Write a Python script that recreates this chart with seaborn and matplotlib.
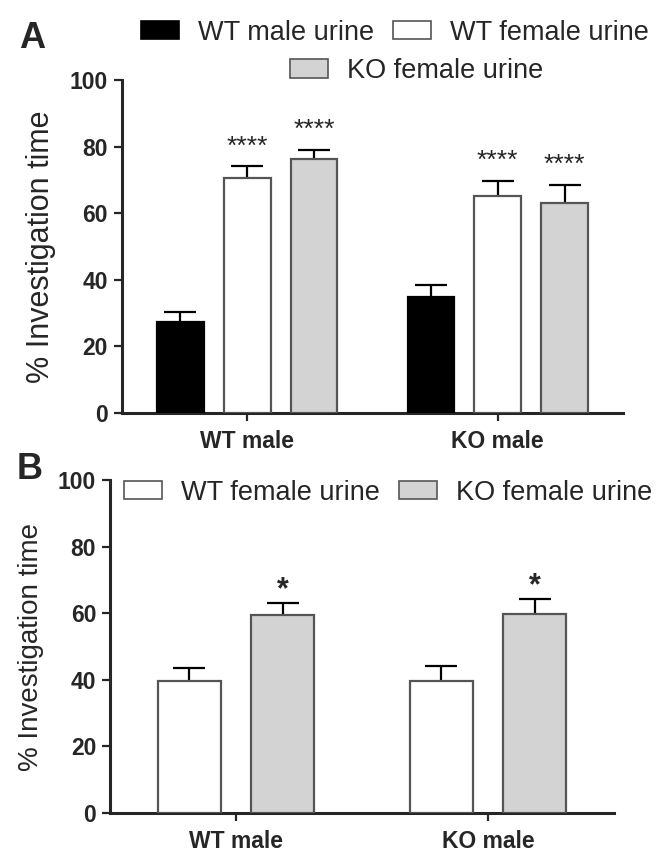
import pandas as pd
import matplotlib.pyplot as plt
import matplotlib.patches as mpatches
import seaborn as sns

# Panel A data (mean +/- SEM, % investigation time)
groups = ['WT male', 'KO male']
urine_a = ['WT male urine', 'WT female urine', 'KO female urine']
mean_a = {'WT male': [27.3, 70.5, 76.2], 'KO male': [34.8, 65.1, 63.0]}
sem_a = {'WT male': [3.0, 3.6, 2.8], 'KO male': [3.6, 4.6, 5.5]}
stars_a = {'WT male': ['', '****', '****'], 'KO male': ['', '****', '****']}

# Panel B data
urine_b = ['WT female urine', 'KO female urine']
mean_b = {'WT male': [39.6, 59.5], 'KO male': [39.6, 59.8]}
sem_b = {'WT male': [3.9, 3.6], 'KO male': [4.5, 4.5]}
stars_b = {'WT male': ['', '*'], 'KO male': ['', '*']}

yticks = [0, 20, 40, 60, 80, 100]

colors = {'WT male urine': 'black', 'WT female urine': 'white', 'KO female urine': '#d3d3d3'}
edges = {'WT male urine': 'black', 'WT female urine': '#555555', 'KO female urine': '#555555'}

sns.set_style('ticks')
plt.rcParams['font.family'] = ['Liberation Sans', 'DejaVu Sans']


def long_table(means, sems, levels):
    rows = []
    for g in groups:
        for i, u in enumerate(levels):
            rows.append({'group': g, 'urine': u, 'value': means[g][i], 'sem': sems[g][i]})
    return pd.DataFrame(rows)


def draw_panel(ax, df, levels, stars, width, gap, star_size, star_weight, star_off):
    sns.barplot(data=df, x='group', y='value', hue='urine', order=groups, hue_order=levels,
                palette=[colors[u] for u in levels], width=width, gap=gap,
                errorbar=None, legend=False, linewidth=1.6, zorder=3, ax=ax)
    for cont, u in zip(ax.containers, levels):
        for bar, g in zip(cont, groups):
            bar.set_edgecolor(edges[u])
            row = df[(df['group'] == g) & (df['urine'] == u)].iloc[0]
            xc = bar.get_x() + bar.get_width() / 2
            ax.errorbar(xc, row['value'], yerr=row['sem'], fmt='none', ecolor='black',
                        elinewidth=1.6, capsize=11.5, capthick=1.6, zorder=2)
            s = stars[g][levels.index(u)]
            if s:
                ax.text(xc, row['value'] + row['sem'] + star_off, s, ha='center',
                        va='baseline', fontsize=star_size, fontweight=star_weight)
    ax.set_xlim(-0.5, 1.5)
    ax.set_ylim(0, 100)
    ax.set_yticks(yticks)
    ax.set_xlabel('')
    sns.despine(ax=ax)
    for side in ['left', 'bottom']:
        ax.spines[side].set_linewidth(2.2)
    ax.tick_params(axis='both', length=6, width=1.6, pad=4)
    ax.tick_params(axis='x', pad=6)
    for lab in ax.get_xticklabels() + ax.get_yticklabels():
        lab.set_fontweight('bold')
        lab.set_fontsize(16.5)


def handle(u):
    return mpatches.Patch(facecolor=colors[u], edgecolor=edges[u], linewidth=1.2, label=u)


fig = plt.figure(figsize=(6.66, 8.66), dpi=100)
ax_a = fig.add_axes([0.1832, 0.5231, 0.7523, 0.3845])
ax_b = fig.add_axes([0.1652, 0.0612, 0.7568, 0.3845])

draw_panel(ax_a, long_table(mean_a, sem_a, urine_a), urine_a, stars_a,
           0.8, 0.3, 19, 'normal', 3.8)
draw_panel(ax_b, long_table(mean_b, sem_b, urine_b), urine_b, stars_b,
           0.74, 0.32, 22, 'bold', 1.5)

ax_a.set_ylabel('% Investigation time', fontsize=22, labelpad=10)
ax_b.set_ylabel('% Investigation time', fontsize=20, labelpad=10)

leg_kw = dict(frameon=False, fontsize=19.5, handlelength=1.4, handleheight=0.65,
              handletextpad=0.7, columnspacing=0.7, borderpad=0, borderaxespad=0)
fig.legend(handles=[handle(u) for u in urine_a[:2]], ncol=2, loc='center',
           bbox_to_anchor=(0.593, 0.962), **leg_kw)
fig.legend(handles=[handle(urine_a[2])], ncol=1, loc='center',
           bbox_to_anchor=(0.626, 0.918), **leg_kw)
fig.legend(handles=[handle(u) for u in urine_b], ncol=2, loc='center',
           bbox_to_anchor=(0.583, 0.431), **leg_kw)

fig.text(0.048, 0.955, 'A', fontsize=26, fontweight='bold', ha='center', va='center')
fig.text(0.044, 0.458, 'B', fontsize=26, fontweight='bold', ha='center', va='center')

plt.savefig('out.png', dpi=100)
